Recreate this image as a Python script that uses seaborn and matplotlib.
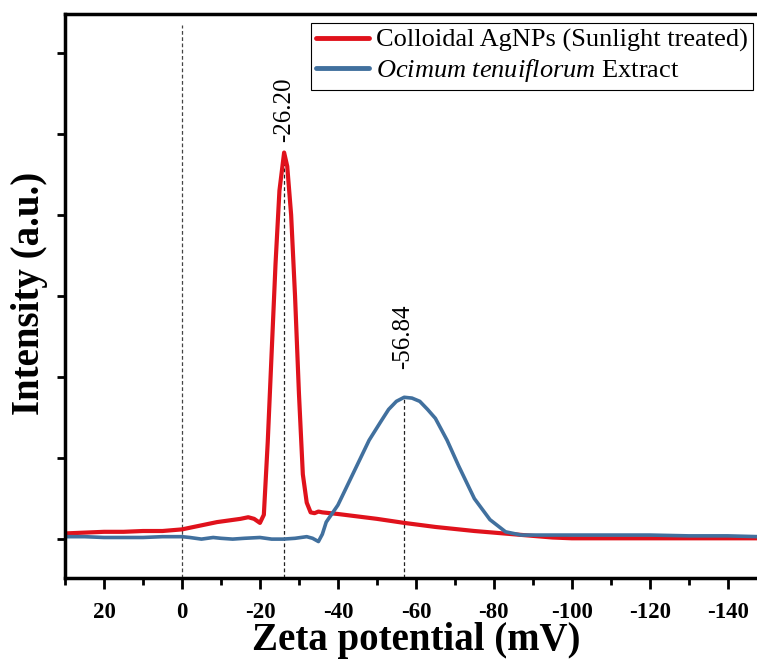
import matplotlib
matplotlib.use("Agg")
import matplotlib.pyplot as plt
import seaborn as sns
import pandas as pd
from matplotlib.ticker import MultipleLocator

# --------------------------- DATA ---------------------------
red_x = [30, 25, 20, 15, 10, 5, 0, -3, -6, -9, -12, -15, -17, -18.5, -20, -21, -22, -23, -24, -25,
         -26.2, -27, -28, -29, -30, -31, -32, -33, -34, -35, -36, -40, -50, -57, -65, -75, -85,
         -95, -100, -110, -120, -130, -140, -148]
red_y = [0.07, 0.08, 0.09, 0.09, 0.10, 0.10, 0.12, 0.15, 0.18, 0.21, 0.23, 0.25, 0.27, 0.25, 0.20,
         0.30, 1.2, 2.3, 3.4, 4.3, 4.77, 4.6, 4.0, 3.0, 1.8, 0.8, 0.45, 0.33, 0.32, 0.34, 0.33, 0.31,
         0.25, 0.20, 0.15, 0.10, 0.06, 0.02, 0.01, 0.01, 0.01, 0.01, 0.01, 0.01]

blue_x = [30, 25, 20, 15, 10, 5, 0, -2, -5, -8, -10, -13, -16, -20, -23, -26, -29, -32, -33.5, -35,
          -36, -37, -38, -40, -42, -45, -48, -51, -53, -55, -57, -59, -61, -63, -65, -68, -71, -75,
          -79, -83, -87, -90, -100, -110, -120, -130, -140, -148]
blue_y = [0.03, 0.03, 0.02, 0.02, 0.02, 0.03, 0.03, 0.02, 0.0, 0.02, 0.01, 0.0, 0.01, 0.02, 0.0, 0.0,
          0.01, 0.03, 0.01, -0.03, 0.06, 0.21, 0.28, 0.42, 0.62, 0.92, 1.22, 1.45, 1.60, 1.70, 1.75,
          1.74, 1.70, 1.60, 1.49, 1.22, 0.90, 0.50, 0.24, 0.09, 0.05, 0.05, 0.05, 0.05, 0.05, 0.04,
          0.04, 0.03]

red_label = "Colloidal AgNPs (Sunlight treated)"
blue_label = r"$\mathit{Ocimum\ tenuiflorum}$ Extract"

peaks_x = [-26.20, -56.84]
peaks_y = [4.77, 1.75]
peak_text = ["-26.20", "-56.84"]
peak_text_y = [4.90, 2.10]

# --------------------------- STYLE ---------------------------
sns.set_style("ticks")
plt.rcParams["font.family"] = ["Liberation Serif", "DejaVu Serif"]
plt.rcParams["mathtext.fontset"] = "custom"
plt.rcParams["mathtext.rm"] = "Liberation Serif"
plt.rcParams["mathtext.it"] = "Liberation Serif:italic"
plt.rcParams["axes.unicode_minus"] = False
plt.rcParams.update({"text.color": "black", "axes.labelcolor": "black",
                     "xtick.color": "black", "ytick.color": "black",
                     "axes.edgecolor": "black"})

red = "#E0121C"
blue = "#41709E"

df_red = pd.DataFrame({"x": red_x, "y": red_y})
df_blue = pd.DataFrame({"x": blue_x, "y": blue_y})

fig = plt.figure(figsize=(7.57, 6.59), dpi=100)
ax = fig.add_axes([0.0859, 0.1229, 0.9141, 0.8559])

sns.lineplot(data=df_red, x="x", y="y", ax=ax, color=red, lw=3.0, sort=False, label=red_label)
sns.lineplot(data=df_blue, x="x", y="y", ax=ax, color=blue, lw=2.6, sort=False, label=blue_label)

# dashed guide lines
ax.vlines(0, -0.48, 6.35, colors="#444444", lw=0.9, linestyles=(0, (3, 2)), zorder=1)
for px, py, t, ty in zip(peaks_x, peaks_y, peak_text, peak_text_y):
    ax.vlines(px, -0.48, py, colors="#222222", lw=0.9, linestyles=(0, (3, 2)), zorder=1)
    ax.text(px, ty, t, rotation=90, ha="center", va="bottom", fontsize=18)

ax.set_xlim(30, -147.5)
ax.set_ylim(-0.48, 6.48)
ax.xaxis.set_major_locator(MultipleLocator(20))
ax.xaxis.set_minor_locator(MultipleLocator(10))
ax.yaxis.set_major_locator(MultipleLocator(1))
ax.set_yticklabels([])
ax.tick_params(axis="x", which="major", length=8, width=2, labelsize=16.5, pad=9)
ax.tick_params(axis="x", which="minor", length=5, width=2)
ax.tick_params(axis="y", which="major", length=6, width=2)
for lbl in ax.get_xticklabels():
    lbl.set_fontweight("bold")

for s in ["left", "bottom", "top"]:
    ax.spines[s].set_linewidth(2.5)
    ax.spines[s].set_color("black")
ax.spines["right"].set_visible(False)

ax.set_xlabel("Zeta potential (mV)", fontsize=28, fontweight="bold")
ax.set_ylabel("Intensity (a.u.)", fontsize=28, fontweight="bold")
ax.xaxis.set_label_coords(0.507, -0.11, transform=ax.transAxes)
ax.yaxis.set_label_coords(-0.052, 0.505, transform=ax.transAxes)
ax.yaxis.label.set_va("center")
ax.xaxis.label.set_va("center")

leg = ax.legend(loc="upper right", bbox_to_anchor=(0.994, 0.984), fontsize=19, frameon=True,
                fancybox=False, framealpha=1, edgecolor="black", borderpad=0.2,
                handlelength=2.0, handletextpad=0.25, labelspacing=0.2, borderaxespad=0)
leg.get_frame().set_linewidth(0.8)
for h in leg.get_lines():
    h.set_linewidth(3.5)

fig.savefig("out.png", dpi=100)
